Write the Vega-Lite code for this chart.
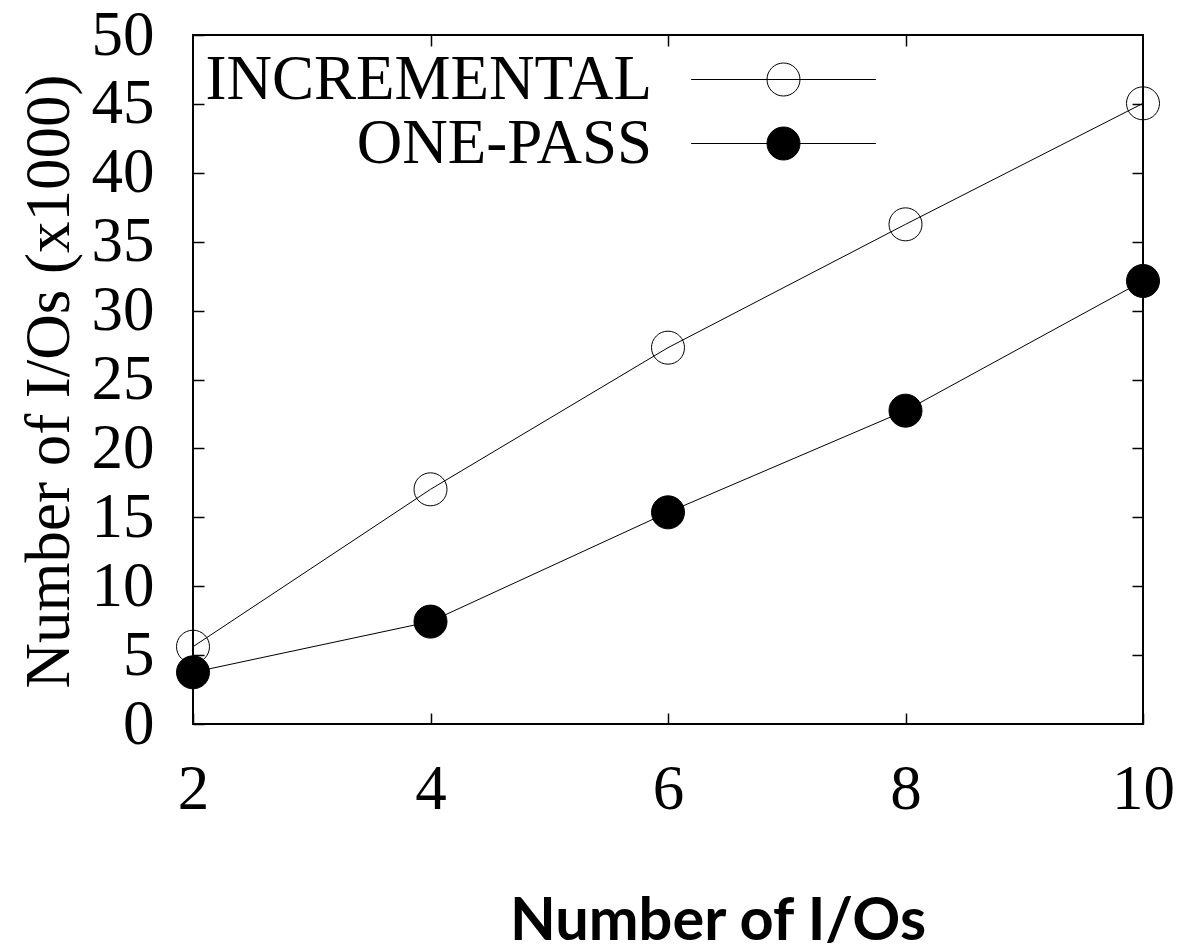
{
  "$schema": "https://vega.github.io/schema/vega-lite/v6.json",
  "width": 950,
  "height": 689,
  "autosize": {"type": "none"},
  "padding": {"left": 193, "top": 35, "right": 40, "bottom": 228},
  "background": "white",
  "config": {
    "view": {"stroke": "black", "strokeWidth": 2},
    "axis": {
      "grid": false,
      "domain": false,
      "tickColor": "black",
      "tickWidth": 1.5,
      "tickSize": -11,
      "labelColor": "black",
      "labelFont": "Liberation Serif",
      "labelFontSize": 63,
      "labelFlush": false,
      "labelOverlap": false,
      "titleColor": "black"
    }
  },
  "data": {
    "values": [
      {"blocks": 2, "ios": 5.61, "series": "INCREMENTAL"},
      {"blocks": 4, "ios": 17.03, "series": "INCREMENTAL"},
      {"blocks": 6, "ios": 27.31, "series": "INCREMENTAL"},
      {"blocks": 8, "ios": 36.26, "series": "INCREMENTAL"},
      {"blocks": 10, "ios": 45.04, "series": "INCREMENTAL"},
      {"blocks": 2, "ios": 3.75, "series": "ONE-PASS"},
      {"blocks": 4, "ios": 7.43, "series": "ONE-PASS"},
      {"blocks": 6, "ios": 15.36, "series": "ONE-PASS"},
      {"blocks": 8, "ios": 22.74, "series": "ONE-PASS"},
      {"blocks": 10, "ios": 32.15, "series": "ONE-PASS"}
    ]
  },
  "layer": [
    {
      "mark": {"type": "line", "color": "black", "strokeWidth": 1},
      "encoding": {
        "x": {
          "field": "blocks",
          "type": "quantitative",
          "scale": {"domain": [2, 10], "nice": false, "zero": false},
          "axis": {
            "orient": "bottom",
            "values": [2, 4, 6, 8, 10],
            "labelPadding": 95,
            "labelBaseline": "alphabetic",
            "title": "Number of I/Os",
            "titleFont": "Lato",
            "titleFontWeight": "bold",
            "titleFontSize": 59.5,
            "titleX": 524.5,
            "titleY": 215,
            "titleAlign": "center",
            "titleBaseline": "alphabetic"
          }
        },
        "y": {
          "field": "ios",
          "type": "quantitative",
          "scale": {"domain": [0, 50], "nice": false},
          "axis": {
            "orient": "left",
            "values": [0, 5, 10, 15, 20, 25, 30, 35, 40, 45, 50],
            "labelPadding": 50,
            "title": "Number of I/Os (x1000)",
            "titleFont": "Liberation Serif",
            "titleFontWeight": "normal",
            "titleFontSize": 63,
            "titleAngle": 270,
            "titleX": -125,
            "titleY": 346,
            "titleAlign": "center",
            "titleBaseline": "alphabetic"
          }
        },
        "detail": {"field": "series", "type": "nominal"}
      }
    },
    {
      "mark": {"type": "point", "shape": "circle", "size": 1089, "filled": true, "stroke": "black", "strokeWidth": 1, "opacity": 1},
      "encoding": {
        "x": {
          "field": "blocks",
          "type": "quantitative",
          "axis": {"orient": "top", "values": [4, 6, 8], "labels": false, "title": null}
        },
        "y": {
          "field": "ios",
          "type": "quantitative",
          "axis": {"orient": "right", "values": [5, 10, 15, 20, 25, 30, 35, 40, 45], "labels": false, "title": null}
        },
        "fill": {
          "field": "series",
          "type": "nominal",
          "scale": {"domain": ["INCREMENTAL", "ONE-PASS"], "range": ["transparent", "black"]},
          "legend": {
            "orient": "none",
            "legendX": 559,
            "legendY": 13,
            "title": null,
            "padding": 0,
            "symbolType": "M-5.6,0H5.6M1,0A1,1,0,1,1,-1,0A1,1,0,1,1,1,0",
            "symbolSize": 1089,
            "symbolStrokeColor": "black",
            "symbolStrokeWidth": 1,
            "labelFont": "Liberation Serif",
            "labelFontSize": 63,
            "labelColor": "black",
            "labelAlign": "right",
            "labelOffset": -163,
            "labelLimit": 0,
            "rowPadding": -1
          }
        }
      }
    }
  ],
  "resolve": {"axis": {"x": "independent", "y": "independent"}}
}
